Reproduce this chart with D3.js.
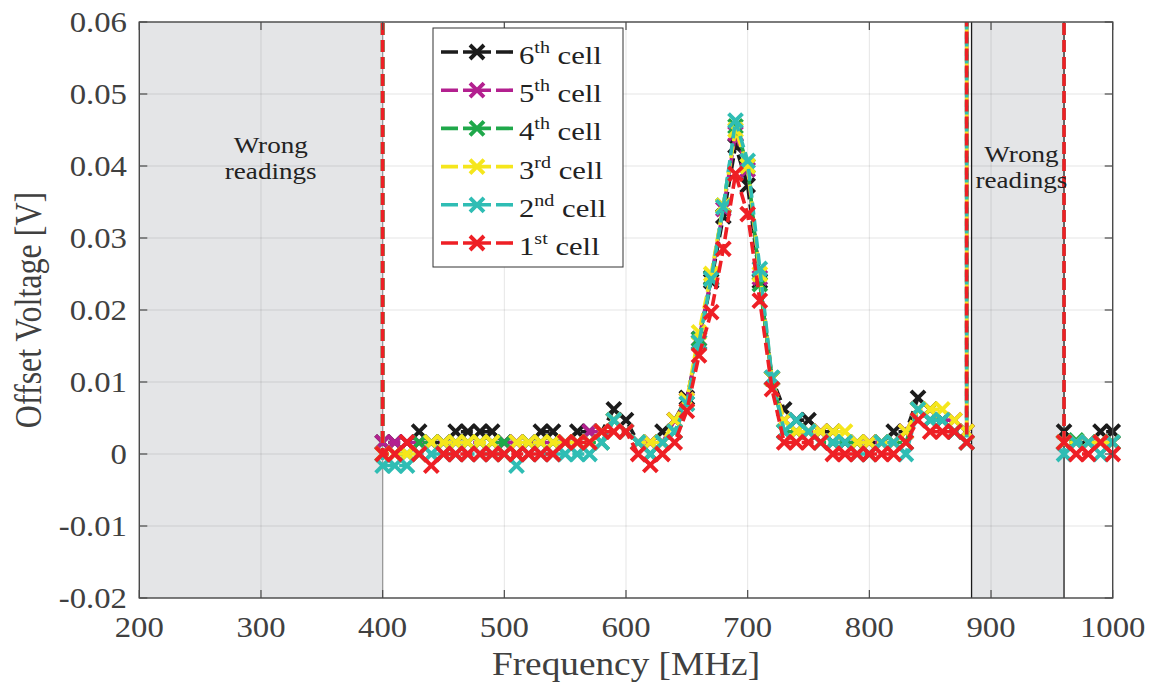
<!DOCTYPE html>
<html>
<head>
<meta charset="utf-8">
<script src="https://cdn.jsdelivr.net/npm/d3@7"></script>
<style>
  html, body { margin: 0; padding: 0; background: #fff; }
  svg { display: block; }
</style>
</head>
<body>
<svg id="chart" width="1156" height="684" font-family="Liberation Serif, Times New Roman, Times, serif"></svg>
<script>
// frequencies of the measured band and of the short band after the gap
const freqMain = [400, 410, 420, 430, 440, 450, 460, 470, 480, 490, 500, 510, 520, 530, 540,
  550, 560, 570, 580, 590, 600, 610, 620, 630, 640, 650, 660, 670, 680, 690, 700, 710, 720,
  730, 740, 750, 760, 770, 780, 790, 800, 810, 820, 830, 840, 850, 860, 870, 880];
const freqTail = [960, 970, 980, 990, 1000];

// offset voltage [V] per cell
const cell6Main = [0.0016, 0.0016, 0.0016, 0.0031, 0.0016, 0.0016, 0.0031, 0.0031, 0.0031, 0.0031,
  0.0016, 0.0016, 0.0016, 0.0031, 0.0031, 0.0016, 0.0031, 0.0031, 0.0031, 0.0062, 0.0047, 0.0016,
  0.0016, 0.0031, 0.0047, 0.0078, 0.0155, 0.0240, 0.0330, 0.0428, 0.0373, 0.0240, 0.0105, 0.0062,
  0.0047, 0.0047, 0.0031, 0.0031, 0.0016, 0.0016, 0.0016, 0.0016, 0.0031, 0.0031, 0.0078, 0.0062,
  0.0047, 0.0031, 0.0031];
const cell6Tail = [0.0031, 0.0016, 0.0016, 0.0031, 0.0031];

const cell5Main = [0.0016, 0.0016, 0.0016, 0.0016, 0.0016, 0.0016, 0.0016, 0.0016, 0.0016, 0.0016,
  0.0016, 0.0016, 0.0016, 0.0016, 0.0016, 0.0016, 0.0016, 0.0031, 0.0031, 0.0047, 0.0031, 0.0016,
  0.0016, 0.0016, 0.0047, 0.0075, 0.0160, 0.0245, 0.0340, 0.0445, 0.0395, 0.0245, 0.0105, 0.0047,
  0.0031, 0.0031, 0.0031, 0.0016, 0.0016, 0.0016, 0.0016, 0.0016, 0.0016, 0.0031, 0.0062, 0.0047,
  0.0047, 0.0047, 0.0031];
const cell5Tail = [0.0016, 0.0016, 0.0016, 0.0016, 0.0016];

const cell4Main = [0, 0, 0, 0.0016, 0.0016, 0.0016, 0.0016, 0.0016, 0.0016, 0.0016,
  0.0016, 0, 0.0016, 0.0016, 0.0016, 0.0016, 0.0016, 0.0016, 0.0016, 0.0047, 0.0031, 0.0016,
  0, 0.0016, 0.0031, 0.0070, 0.0160, 0.0245, 0.0345, 0.0455, 0.0400, 0.0236, 0.0105, 0.0031,
  0.0031, 0.0031, 0.0016, 0.0016, 0.0016, 0.0016, 0, 0.0016, 0.0016, 0.0016, 0.0062, 0.0047,
  0.0047, 0.0031, 0.0016];
const cell4Tail = [0.0016, 0.0019, 0.0016, 0.0016, 0.0016];

const cell3Main = [0, 0, 0, 0, 0.0016, 0.0016, 0.0016, 0.0016, 0.0016, 0.0016,
  0, 0.0016, 0.0016, 0.0016, 0.0016, 0.0016, 0.0016, 0.0016, 0.0031, 0.0047, 0.0031, 0.0016,
  0.0016, 0.0016, 0.0047, 0.0075, 0.0169, 0.0250, 0.0345, 0.0450, 0.0400, 0.0250, 0.0105, 0.0047,
  0.0031, 0.0031, 0.0031, 0.0031, 0.0031, 0.0016, 0.0016, 0.0016, 0.0016, 0.0031, 0.0062, 0.0062,
  0.0062, 0.0047, 0.0031];
const cell3Tail = [0.0016, 0.0016, 0.0016, 0.0016, 0.0016];

const cell2Main = [-0.0016, -0.0016, -0.0016, 0, 0, 0, 0, 0, 0, 0,
  0, -0.0016, 0, 0, 0, 0, 0, 0, 0.0016, 0.0047, 0.0031, 0.0016,
  0, 0.0016, 0.0031, 0.0070, 0.0155, 0.0243, 0.0343, 0.0463, 0.0407, 0.0257, 0.0106, 0.0031,
  0.0047, 0.0031, 0.0016, 0.0016, 0.0016, 0, 0, 0.0016, 0.0016, 0, 0.0062, 0.0047,
  0.0047, 0.0031, 0.0016];
const cell2Tail = [0, 0.0016, 0.0016, 0, 0.0016];

const cell1Main = [0, 0, 0.0016, 0, -0.0016, 0, 0, 0, 0, 0,
  0, 0, 0, 0, 0, 0.0016, 0.0016, 0.0016, 0.0031, 0.0031, 0.0031, 0,
  -0.0015, 0, 0.0016, 0.0060, 0.0137, 0.0197, 0.0285, 0.0389, 0.0333, 0.0213, 0.0090, 0.0016,
  0.0016, 0.0016, 0.0016, 0, 0, 0, 0, 0, 0, 0.0016, 0.0047, 0.0031,
  0.0031, 0.0031, 0.0016];
const cell1Tail = [0.0016, 0, 0, 0.0016, 0];

// legend order = plot order (6th drawn first, 1st on top)
const seriesNames = [["6", "th"], ["5", "th"], ["4", "th"], ["3", "rd"], ["2", "nd"], ["1", "st"]];
const seriesColors = ["#1c1c1c", "#b3208f", "#1fa84a", "#f5e61c", "#2fbdb4", "#ee1f25"];
const seriesMain = [cell6Main, cell5Main, cell4Main, cell3Main, cell2Main, cell1Main];
const seriesTail = [cell6Tail, cell5Tail, cell4Tail, cell3Tail, cell2Tail, cell1Tail];

// readings jump off scale at the band edges
const spikeValue = 0.1;

// shaded "wrong readings" bands [MHz]
const badBands = [[200, 400], [884, 960]];
const bandLabels = [[308, 0.0418], [925, 0.0406]];

const xTicks = [200, 300, 400, 500, 600, 700, 800, 900, 1000];
const yTicks = [-0.02, -0.01, 0, 0.01, 0.02, 0.03, 0.04, 0.05, 0.06];

const svg = d3.select('#chart');
const plotLeft = 139.3, plotRight = 1112.7, plotTop = 22, plotBottom = 598;
const stretch = 1.13;   // the original figure is stretched sideways

const x = d3.scaleLinear().domain([200, 1000]).range([plotLeft, plotRight]);
const y = d3.scaleLinear().domain([-0.02, 0.06]).range([plotBottom, plotTop]);

svg.append('defs').append('clipPath').attr('id', 'plotclip')
  .append('rect').attr('x', plotLeft).attr('y', plotTop)
  .attr('width', plotRight - plotLeft).attr('height', plotBottom - plotTop);

// shaded bands
svg.selectAll('rect.band')
  .data(badBands)
  .enter().append('rect')
  .attr('class', 'band')
  .attr('x', d => x(d[0]))
  .attr('y', plotTop)
  .attr('width', d => x(d[1]) - x(d[0]))
  .attr('height', plotBottom - plotTop)
  .attr('fill', '#e4e5e7');

// grid
const grid = svg.append('g').attr('stroke', '#000').attr('stroke-opacity', 0.1).attr('stroke-width', 1);
grid.selectAll('line.gx').data(xTicks).enter().append('line')
  .attr('x1', d => x(d)).attr('x2', d => x(d)).attr('y1', plotTop).attr('y2', plotBottom);
grid.selectAll('line.gy').data(yTicks).enter().append('line')
  .attr('x1', plotLeft).attr('x2', plotRight).attr('y1', d => y(d)).attr('y2', d => y(d));

// border lines of the shaded bands
svg.append('g').selectAll('line')
  .data([[badBands[0][1], '#9a9a9a'], [badBands[1][0], '#1a1a1a'], [badBands[1][1], '#1a1a1a']])
  .enter().append('line')
  .attr('x1', d => x(d[0])).attr('x2', d => x(d[0]))
  .attr('y1', plotTop).attr('y2', plotBottom)
  .attr('stroke', d => d[1]).attr('stroke-width', 1.3);

// series
const line = d3.line()
  .defined(d => d.v !== null)
  .x(d => x(d.f))
  .y(d => y(d.v));

const xMark = 'M-7,-7L7,7M-7,7L7,-7';

const plot = svg.append('g');
seriesMain.forEach((vals, i) => {
  const pts = freqMain.map((f, j) => ({ f: f, v: vals[j] }));
  const tail = freqTail.map((f, j) => ({ f: f, v: seriesTail[i][j] }));
  const path = [{ f: freqMain[0], v: spikeValue }]
    .concat(pts)
    .concat([{ f: freqMain[freqMain.length - 1], v: spikeValue }, { f: 920, v: null },
             { f: freqTail[0], v: spikeValue }])
    .concat(tail);

  const g = plot.append('g');
  g.append('path')
    .datum(path)
    .attr('clip-path', 'url(#plotclip)')
    .attr('fill', 'none')
    .attr('stroke', seriesColors[i])
    .attr('stroke-width', 3.6)
    .attr('stroke-dasharray', '12,5')
    .attr('d', line);

  g.selectAll('path.mk')
    .data(pts.concat(tail))
    .enter().append('path')
    .attr('class', 'mk')
    .attr('transform', d => `translate(${x(d.f)},${y(d.v)})`)
    .attr('d', xMark)
    .attr('fill', 'none')
    .attr('stroke', seriesColors[i])
    .attr('stroke-width', 3.9);
});

// band labels, two separate lines
bandLabels.forEach(b => {
  ['Wrong', 'readings'].forEach((word, k) => {
    svg.append('text')
      .attr('transform', `translate(${x(b[0])},${y(b[1]) + k * 26}) scale(${stretch},1)`)
      .attr('text-anchor', 'middle')
      .attr('font-size', 24)
      .attr('fill', '#222')
      .text(word);
  });
});

// axes box with inward ticks on all four sides
const axisColor = '#4a4a4a';
svg.append('rect')
  .attr('x', plotLeft).attr('y', plotTop)
  .attr('width', plotRight - plotLeft).attr('height', plotBottom - plotTop)
  .attr('fill', 'none').attr('stroke', axisColor).attr('stroke-width', 1.4);

const tickLen = 8;
const ticks = svg.append('g').attr('stroke', axisColor).attr('stroke-width', 1.2);
xTicks.forEach(t => {
  ticks.append('line').attr('x1', x(t)).attr('x2', x(t)).attr('y1', plotBottom).attr('y2', plotBottom - tickLen);
  ticks.append('line').attr('x1', x(t)).attr('x2', x(t)).attr('y1', plotTop).attr('y2', plotTop + tickLen);
});
yTicks.forEach(t => {
  ticks.append('line').attr('x1', plotLeft).attr('x2', plotLeft + tickLen).attr('y1', y(t)).attr('y2', y(t));
  ticks.append('line').attr('x1', plotRight).attr('x2', plotRight - tickLen).attr('y1', y(t)).attr('y2', y(t));
});

const labelColor = '#404040';
svg.append('g').selectAll('text')
  .data(xTicks)
  .enter().append('text')
  .attr('transform', d => `translate(${x(d)},637) scale(${stretch},1)`)
  .attr('text-anchor', 'middle')
  .attr('font-size', 29)
  .attr('fill', labelColor)
  .text(d => d);

svg.append('g').selectAll('text')
  .data(yTicks)
  .enter().append('text')
  .attr('transform', d => `translate(127,${y(d) + 10}) scale(${stretch},1)`)
  .attr('text-anchor', 'end')
  .attr('font-size', 29)
  .attr('fill', labelColor)
  .text(d => d === 0 ? '0' : d3.format('.2f')(d).replace('\u2212', '-'));

svg.append('text')
  .attr('transform', `translate(${(plotLeft + plotRight) / 2},675) scale(${stretch},1)`)
  .attr('text-anchor', 'middle')
  .attr('font-size', 33)
  .attr('fill', labelColor)
  .text('Frequency [MHz]');

// vertical label: stretched along screen x, like the rest of the figure
svg.append('text')
  .attr('transform', `translate(41,${(plotTop + plotBottom) / 2}) scale(1.2,1) rotate(-90)`)
  .attr('text-anchor', 'middle')
  .attr('font-size', 32)
  .attr('fill', labelColor)
  .text('Offset Voltage [V]');

// legend
const legend = svg.append('g');
legend.append('rect')
  .attr('x', 433).attr('y', 28).attr('width', 190).attr('height', 239)
  .attr('fill', '#fff').attr('stroke', '#333').attr('stroke-width', 1);

seriesNames.forEach((name, i) => {
  const ry = 52 + i * 38.2;
  legend.append('line')
    .attr('x1', 441).attr('x2', 513).attr('y1', ry).attr('y2', ry)
    .attr('stroke', seriesColors[i]).attr('stroke-width', 3.6)
    .attr('stroke-dasharray', '17,5,28,5');
  legend.append('path')
    .attr('transform', `translate(477,${ry})`)
    .attr('d', xMark)
    .attr('fill', 'none')
    .attr('stroke', seriesColors[i]).attr('stroke-width', 3.9);
  const t = legend.append('text')
    .attr('transform', `translate(519,${ry + 12}) scale(1.18,1)`)
    .attr('font-size', 26)
    .attr('fill', '#222');
  t.append('tspan').text(name[0]);
  t.append('tspan').attr('font-size', 17).attr('dy', -11).text(name[1]);
  t.append('tspan').attr('dy', 11).text(' cell');
});
</script>
</body>
</html>
